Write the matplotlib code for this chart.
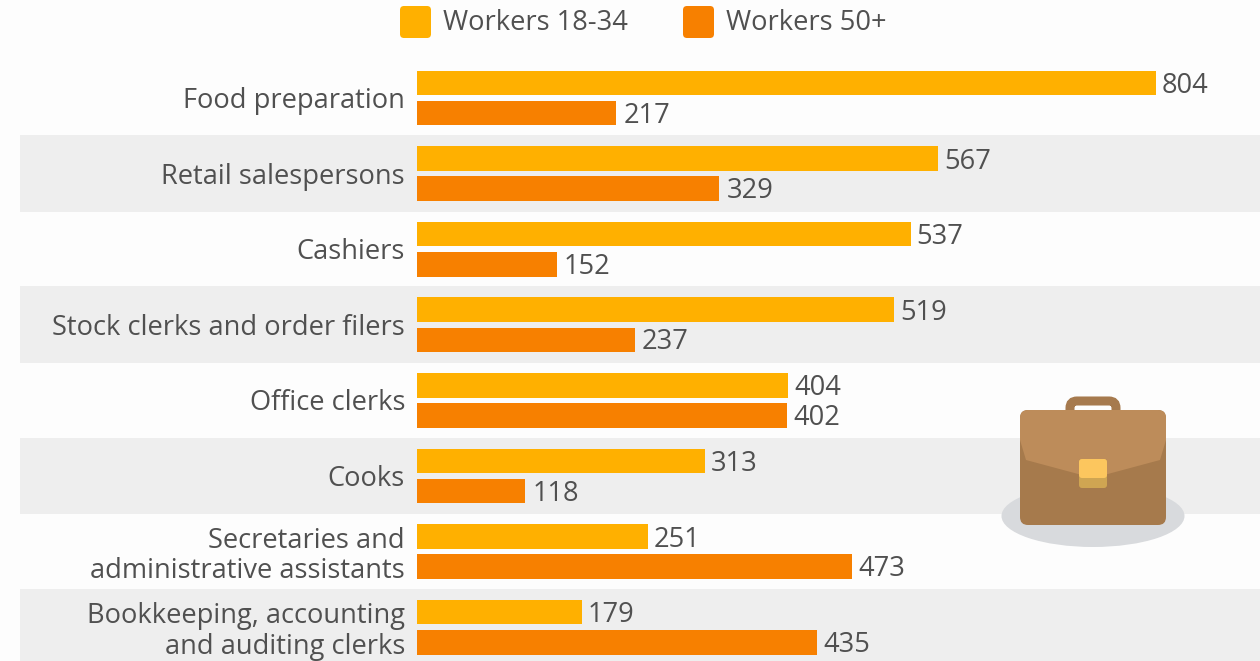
import matplotlib
matplotlib.use('Agg')
import matplotlib.pyplot as plt
from matplotlib.patches import Ellipse, FancyBboxPatch, Polygon, Rectangle

categories = ['Food preparation', 'Retail salespersons', 'Cashiers',
              'Stock clerks and order filers', 'Office clerks', 'Cooks',
              'Secretaries and\nadministrative assistants',
              'Bookkeeping, accounting\nand auditing clerks']
young = [804, 567, 537, 519, 404, 313, 251, 179]
older = [217, 329, 152, 237, 402, 118, 473, 435]
legend_labels = ['Workers 18-34', 'Workers 50+']

YOUNG_COLOR = '#ffb000'
OLD_COLOR = '#f78000'
BAND_COLOR = '#eeeeee'
TEXT_COLOR = '#505050'
FONT_SIZE = 19.6
W, H = 1260, 661

plt.rcParams['font.family'] = ['Open Sans', 'DejaVu Sans']

fig = plt.figure(figsize=(W / 100, H / 100), dpi=100, facecolor='#fdfdfd')

# full-figure axes in pixel coords for bands, legend and the briefcase
bg = fig.add_axes([0, 0, 1, 1], zorder=0)
bg.set_xlim(0, W)
bg.set_ylim(H, 0)
bg.axis('off')

ROW = 75.6
TOP = 59.5
for i in range(len(categories)):
    if i % 2 == 1:
        bg.add_patch(Rectangle((20, TOP + i * ROW), 1240, ROW + 1, color=BAND_COLOR, lw=0))

# bars, y is in row units so each row spans 1
ax = fig.add_axes([417 / W, 0, (1260 - 417) / W, 1], zorder=1)
ax.patch.set_alpha(0)
ax.set_xlim(0, (1260 - 417) / 0.9192)
ax.set_ylim((H - TOP) / ROW, -TOP / ROW)
ax.axis('off')

for i, cat in enumerate(categories):
    ax.barh(i + 0.31, young[i], height=0.325, color=YOUNG_COLOR)
    ax.barh(i + 0.71, older[i], height=0.325, color=OLD_COLOR)
    ax.annotate(str(young[i]), (young[i], i + 0.31), xytext=(6, -3), textcoords='offset pixels',
                va='center', ha='left', fontsize=FONT_SIZE, color=TEXT_COLOR)
    ax.annotate(str(older[i]), (older[i], i + 0.71), xytext=(7, -2.5), textcoords='offset pixels',
                va='center', ha='left', fontsize=FONT_SIZE, color=TEXT_COLOR)
    y_off = -4.5 if '\n' in cat else -3
    ax.annotate(cat, (0, i + 0.51), xytext=(-12, y_off), textcoords='offset pixels',
                va='center', ha='right', fontsize=FONT_SIZE, color=TEXT_COLOR,
                linespacing=1.12, annotation_clip=False)

# legend
for x, color, label in zip([400, 683], [YOUNG_COLOR, OLD_COLOR], legend_labels):
    bg.add_patch(FancyBboxPatch((x, 6), 31, 32, boxstyle='round,pad=0,rounding_size=4',
                                color=color, lw=0))
    bg.text(x + 43, 23, label, va='center', ha='left', fontsize=FONT_SIZE, color=TEXT_COLOR)

# briefcase
bg.add_patch(Ellipse((1093, 516), 183, 62, color='#d8dadd', lw=0, zorder=3))
bg.add_patch(FancyBboxPatch((1070, 401), 46, 30, boxstyle='round,pad=0,rounding_size=7',
                            fc='none', ec='#a67a4e', lw=6.5, zorder=3))
body = FancyBboxPatch((1020, 410), 146, 115, boxstyle='round,pad=0,rounding_size=8',
                      color='#a67a4c', lw=0, zorder=4)
bg.add_patch(body)
flap = Polygon([(1020, 410), (1166, 410), (1166, 440), (1160, 460), (1093, 478),
                (1026, 460), (1020, 440)], color='#bd8c5a', lw=0, zorder=5)
bg.add_patch(flap)
flap.set_clip_path(body)
bg.add_patch(FancyBboxPatch((1079, 459), 28, 29, boxstyle='round,pad=0,rounding_size=3',
                            color='#cfa552', lw=0, zorder=6))
bg.add_patch(FancyBboxPatch((1079, 459), 28, 19, boxstyle='round,pad=0,rounding_size=3',
                            color='#fcc65e', lw=0, zorder=7))

fig.savefig('out.png', dpi=100, facecolor=fig.get_facecolor())
